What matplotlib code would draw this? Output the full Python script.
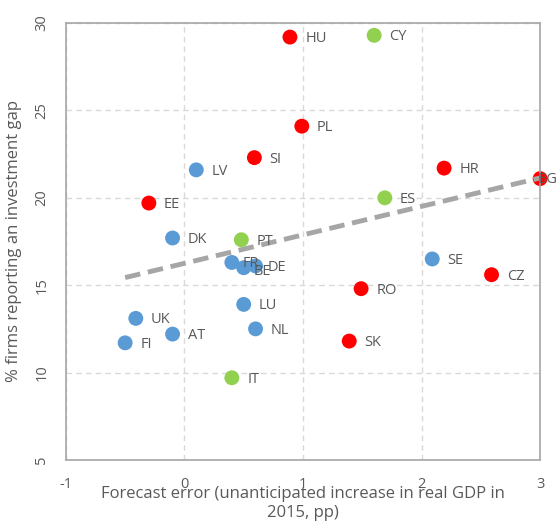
import numpy as np
import matplotlib.pyplot as plt

# ---- data ----
countries = ['HU', 'CY', 'PL', 'SI', 'LV', 'HR', 'BG', 'ES', 'EE', 'DK', 'PT', 'FR',
             'BE', 'DE', 'SE', 'CZ', 'RO', 'LU', 'UK', 'AT', 'NL', 'FI', 'SK', 'IT']
forecast_error = [0.89, 1.60, 0.99, 0.59, 0.10, 2.19, 3.00, 1.69, -0.30, -0.10, 0.48, 0.40,
                  0.50, 0.60, 2.09, 2.59, 1.49, 0.50, -0.41, -0.10, 0.60, -0.50, 1.39, 0.40]
invest_gap = [29.2, 29.3, 24.1, 22.3, 21.6, 21.7, 21.1, 20.0, 19.7, 17.7, 17.6, 16.3,
              16.0, 16.1, 16.5, 15.6, 14.8, 13.9, 13.1, 12.2, 12.5, 11.7, 11.8, 9.7]
group = ['r', 'g', 'r', 'r', 'b', 'r', 'r', 'g', 'r', 'b', 'g', 'b',
         'b', 'b', 'b', 'r', 'r', 'b', 'b', 'b', 'b', 'b', 'r', 'g']

# trend line
trend_x = [-0.5, 3.0]
trend_intercept = 16.25
trend_slope = 1.63

colours = {'r': '#FF0000', 'b': '#5B9BD5', 'g': '#92D050'}
text_col = '#595959'
# labels that Excel pushed back inside the chart
label_offsets = {'BG': (-2, -1), 'FR': (8, -1), 'BE': (7, -3), 'DE': (9, -1)}

plt.rcParams['font.family'] = ['Open Sans', 'DejaVu Sans']

fig = plt.figure(figsize=(5.58, 5.25), dpi=100)
ax = fig.add_axes([0.118, 0.124, 0.850, 0.832])

ax.grid(True, color='#D9D9D9', ls='--', lw=1.0, dashes=(4, 3))
ax.set_axisbelow(True)

tx = np.array(trend_x)
ax.plot(tx, trend_intercept + trend_slope * tx, color='#A6A6A6', lw=3.5,
        dashes=(3.2, 1.6), zorder=3)

for c, xv, yv, g in zip(countries, forecast_error, invest_gap, group):
    ax.scatter(xv, yv, s=115, color=colours[g], edgecolor='none',
               zorder=4 if g != 'r' else 2, clip_on=False)
    ax.annotate(c, (xv, yv), xytext=label_offsets.get(c, (11, -1)),
                textcoords='offset points', fontsize=10.5, color=text_col,
                va='center', ha='left', zorder=5, annotation_clip=False)

ax.set_xlim(-1, 3)
ax.set_ylim(5, 30)
ax.set_xticks([-1, 0, 1, 2, 3])
ax.set_yticks([5, 10, 15, 20, 25, 30])
ax.set_xticklabels(['-1', '0', '1', '2', '3'])
ax.tick_params(length=0, labelsize=10.5, colors=text_col)
ax.tick_params(axis='x', pad=12)
for lab in ax.get_yticklabels():
    lab.set_rotation(90)
    lab.set_va('center')
ax.tick_params(axis='y', pad=12)

for sp in ax.spines.values():
    sp.set_color('#A6A6A6')
    sp.set_linewidth(1.2)

ax.set_xlabel('Forecast error (unanticipated increase in real GDP in\n2015, pp)',
              fontsize=12, color=text_col, linespacing=1.2)
ax.xaxis.set_label_coords(0.5, -0.060)
ax.set_ylabel('% firms reporting an investment gap', fontsize=12, color=text_col)
ax.yaxis.set_label_coords(-0.092, 0.5)

fig.savefig('out.png', dpi=100)
